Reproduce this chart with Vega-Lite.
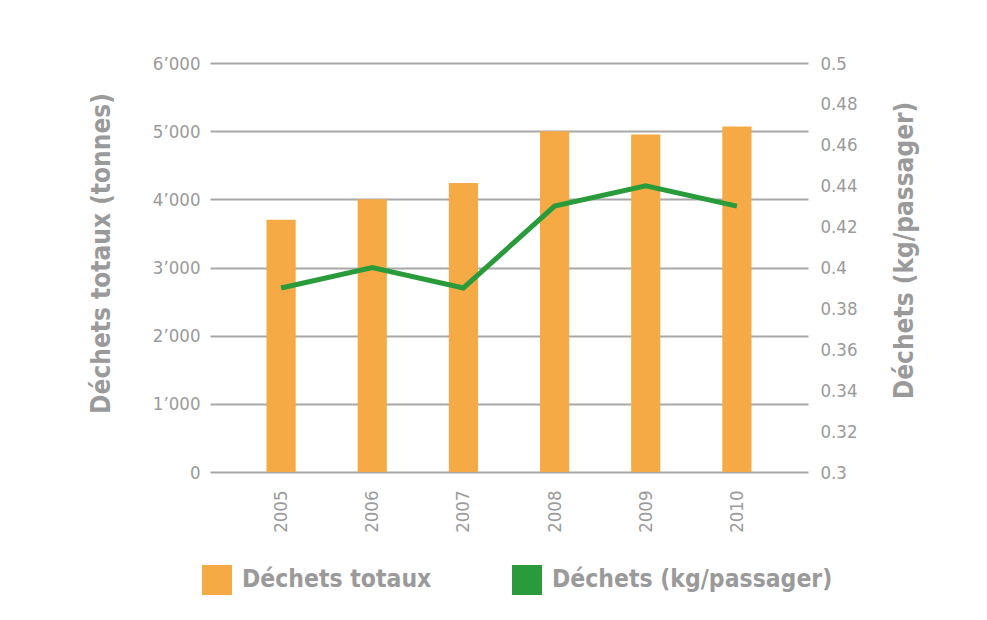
{
  "$schema": "https://vega.github.io/schema/vega-lite/v6.json",
  "autosize": {"type": "none"},
  "width": 598,
  "height": 409,
  "padding": {"left": 210, "top": 63, "right": 179, "bottom": 148},
  "background": "white",
  "config": {
    "view": {"stroke": null},
    "font": "DejaVu Sans Condensed, Roboto, sans-serif",
    "axis": {"labelColor": "#9a9a9a", "titleColor": "#9a9a9a", "labelFont": "DejaVu Sans Condensed, Roboto, sans-serif", "titleFont": "DejaVu Sans Condensed, Roboto, sans-serif", "domain": false, "ticks": false}
  },
  "data": {
    "values": [
      {"annee": "2005", "totaux": 3700, "kg": 0.39},
      {"annee": "2006", "totaux": 4000, "kg": 0.40},
      {"annee": "2007", "totaux": 4240, "kg": 0.39},
      {"annee": "2008", "totaux": 5000, "kg": 0.43},
      {"annee": "2009", "totaux": 4950, "kg": 0.44},
      {"annee": "2010", "totaux": 5070, "kg": 0.43}
    ]
  },
  "encoding": {
    "x": {
      "field": "annee", "type": "nominal",
      "scale": {"paddingInner": 0.68, "paddingOuter": 0.62},
      "axis": {"title": null, "labelAngle": 270, "labelAlign": "right", "labelBaseline": "middle", "labelFontSize": 18.5, "labelPadding": 18}
    }
  },
  "layer": [
    {
      "mark": {"type": "bar", "color": "#F5AA45"},
      "encoding": {
        "y": {
          "field": "totaux", "type": "quantitative",
          "scale": {"domain": [0, 6000], "nice": false},
          "axis": {
            "title": "Déchets totaux (tonnes)",
            "titleFontSize": 26, "titleFontWeight": "bold", "titlePadding": 38, "titleY": 190,
            "values": [0, 1000, 2000, 3000, 4000, 5000, 6000],
            "labelExpr": "replace(format(datum.value, ','), /,/g, '’')",
            "labelFontSize": 18.5, "labelPadding": 10,
            "grid": true, "gridColor": "#a8a8a8", "gridWidth": 2
          }
        },
        "color": {
          "datum": "Déchets totaux",
          "scale": {"domain": ["Déchets totaux", "Déchets (kg/passager)"], "range": ["#F5AA45", "#2A9B3A"]},
          "legend": {
            "title": null, "orient": "none", "direction": "horizontal",
            "legendX": -8, "legendY": 502, "padding": 0,
            "symbolType": "square", "symbolSize": 900, "symbolStrokeWidth": 0,
            "labelFontSize": 24.5, "labelFontWeight": "bold", "labelColor": "#9a9a9a", "labelFont": "DejaVu Sans Condensed, Roboto, sans-serif",
            "labelOffset": 10, "columnPadding": 80, "labelLimit": 400,
            "encode": {"symbols": {"update": {"fill": {"signal": "datum.value === 'Déchets totaux' ? '#F5B21A' : '#22A033'"}, "opacity": {"value": 1}, "strokeWidth": {"value": 0}}}}
          }
        }
      }
    },
    {
      "mark": {"type": "line", "strokeWidth": 5},
      "encoding": {
        "y": {
          "field": "kg", "type": "quantitative",
          "scale": {"domain": [0.3, 0.5], "nice": false, "zero": false},
          "axis": {
            "orient": "right",
            "title": "Déchets (kg/passager)",
            "titleFontSize": 26, "titleFontWeight": "bold", "titlePadding": 34, "titleAngle": 270, "titleBaseline": "top", "titleY": 187,
            "values": [0.3, 0.32, 0.34, 0.36, 0.38, 0.4, 0.42, 0.44, 0.46, 0.48, 0.5],
            "format": ".2~f",
            "labelFontSize": 18.5, "labelPadding": 12,
            "grid": false
          }
        },
        "color": {"datum": "Déchets (kg/passager)"}
      }
    }
  ],
  "resolve": {"scale": {"y": "independent"}}
}
